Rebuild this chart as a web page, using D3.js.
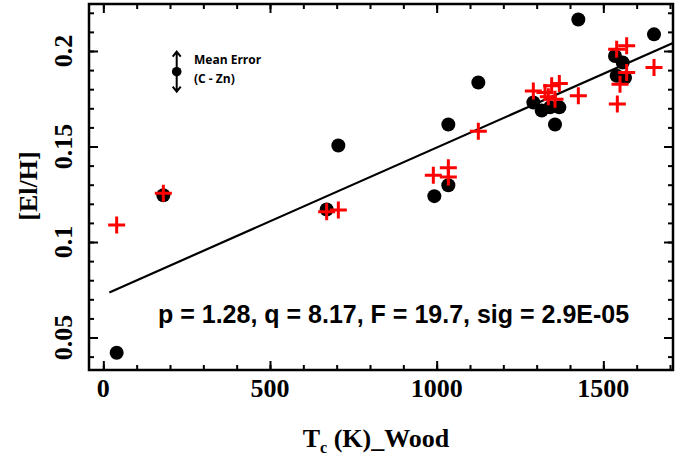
<!DOCTYPE html>
<html>
<head>
<meta charset="utf-8">
<script src="https://cdn.jsdelivr.net/npm/d3@7"></script>
<style>
  html, body { margin: 0; padding: 0; background: #fff; }
  svg { display: block; }
  .tick-label { font-family: "Liberation Serif", serif; font-weight: bold; font-size: 26px; fill: #000; }
</style>
</head>
<body>
<div id="chart"></div>
<script>
'use strict';

// black dots: [El/H] per element vs condensation temperature
var blackT = [40, 180, 670, 705, 993, 1035, 1035, 1125, 1290, 1315, 1340, 1368, 1355, 1425, 1535, 1558, 1540, 1565, 1652];
var blackV = [0.042, 0.1245, 0.117, 0.1505, 0.124, 0.1297, 0.1615, 0.1835, 0.173, 0.1688, 0.1705, 0.1705, 0.1615, 0.2165, 0.1974, 0.194, 0.187, 0.186, 0.2087];

// red crosses
var redT = [40, 180, 670, 705, 990, 1035, 1035, 1125, 1290, 1325, 1345, 1368, 1355, 1335, 1425, 1540, 1570, 1570, 1550, 1542, 1652];
var redV = [0.1089, 0.1255, 0.1158, 0.1167, 0.1349, 0.1389, 0.134, 0.158, 0.179, 0.1783, 0.1818, 0.183, 0.1748, 0.176, 0.1766, 0.2009, 0.2027, 0.1887, 0.1826, 0.1722, 0.1913];

// fitted line end points
var fitT = [18, 1709];
var fitV = [0.0736, 0.2042];

var xMajor = [0, 500, 1000, 1500];
var xLabels = ["0", "500", "1000", "1500"];
var yMajor = [0.05, 0.1, 0.15, 0.2];
var yLabels = ["0.05", "0.1", "0.15", "0.2"];

var statsText = "p = 1.28, q = 8.17, F = 19.7, sig = 2.9E-05";
var legendLines = ["Mean Error", "(C - Zn)"];

var width = 675, height = 463;
var margin = {top: 4, right: 2, bottom: 93, left: 89};
var w = width - margin.left - margin.right;
var h = height - margin.top - margin.bottom;

var svg = d3.select("#chart").append("svg")
	.attr("width", width)
	.attr("height", height);

var g = svg.append("g")
	.attr("transform", "translate(" + margin.left + "," + margin.top + ")");

var x = d3.scaleLinear().domain([-43, 1709]).range([0, w]);
var y = d3.scaleLinear().domain([0.033, 0.2246]).range([h, 0]);

var xMinor = d3.range(0, 1701, 100);
var yMinor = d3.range(4, 23).map(function (d) { return d / 100; });

function tickAxis(axis, scale, values, size) {
	return axis(scale).tickValues(values).tickSizeInner(-size).tickSizeOuter(0).tickFormat("");
}

function drawAxis(axisFn, transform, scale) {
	g.append("g").attr("transform", transform)
		.call(tickAxis(axisFn, scale, scale === x ? xMinor : yMinor, 5));
	g.append("g").attr("transform", transform)
		.call(tickAxis(axisFn, scale, scale === x ? xMajor : yMajor, 9));
}

drawAxis(d3.axisBottom, "translate(0," + h + ")", x);
drawAxis(d3.axisTop, "translate(0,0)", x);
drawAxis(d3.axisLeft, "translate(0,0)", y);
drawAxis(d3.axisRight, "translate(" + w + ",0)", y);

g.selectAll(".domain").remove();
g.selectAll(".tick line").attr("stroke", "#000").attr("stroke-width", 2);

// frame
g.append("rect")
	.attr("width", w)
	.attr("height", h)
	.attr("fill", "none")
	.attr("stroke", "#000")
	.attr("stroke-width", 2.5);

// x tick labels
g.selectAll(".xlab")
	.data(xMajor)
	.enter().append("text")
	.attr("class", "tick-label")
	.attr("text-anchor", "middle")
	.attr("x", function (d) { return x(d); })
	.attr("y", h + 27)
	.text(function (d, i) { return xLabels[i]; });

// y tick labels (rotated)
g.selectAll(".ylab")
	.data(yMajor)
	.enter().append("text")
	.attr("class", "tick-label")
	.attr("text-anchor", "middle")
	.attr("transform", function (d) {
		return "translate(-17," + y(d) + ") rotate(-90)";
	})
	.text(function (d, i) { return yLabels[i]; });

// axis titles
var xt = svg.append("text")
	.attr("class", "tick-label")
	.attr("text-anchor", "middle")
	.attr("x", 376)
	.attr("y", 447);
xt.append("tspan").text("T");
xt.append("tspan").attr("font-size", 16).attr("dy", 6).text("c");
xt.append("tspan").attr("dy", -6).text(" (K)_Wood");

svg.append("text")
	.attr("class", "tick-label")
	.attr("text-anchor", "middle")
	.attr("font-size", 27)
	.attr("transform", "translate(37,186) rotate(-90)")
	.text("[El/H]");

// fit line
g.append("line")
	.attr("x1", x(fitT[0])).attr("y1", y(fitV[0]))
	.attr("x2", x(fitT[1])).attr("y2", y(fitV[1]))
	.attr("stroke", "#000")
	.attr("stroke-width", 2.2);

// black dots
g.selectAll(".dot")
	.data(blackT)
	.enter().append("circle")
	.attr("class", "dot")
	.attr("cx", function (d) { return x(d); })
	.attr("cy", function (d, i) { return y(blackV[i]); })
	.attr("r", 7)
	.attr("fill", "#000");

// red crosses
var arm = 8.5;
g.selectAll(".cross")
	.data(redT)
	.enter().append("path")
	.attr("class", "cross")
	.attr("d", function (d, i) {
		var cx = x(d), cy = y(redV[i]);
		return "M" + (cx - arm) + "," + cy + "H" + (cx + arm) +
			"M" + cx + "," + (cy - arm) + "V" + (cy + arm);
	})
	.attr("stroke", "#ff0000")
	.attr("stroke-width", 3)
	.attr("fill", "none");

// stats text
svg.append("text")
	.attr("x", 158)
	.attr("y", 323)
	.attr("font-family", "Liberation Sans, Arial, sans-serif")
	.attr("font-weight", "bold")
	.attr("font-size", 25)
	.attr("fill", "#000")
	.text(statsText);

// mean error marker
var lg = svg.append("g").attr("transform", "translate(176.7,71.7)");
lg.append("path")
	.attr("d", "M0,-20V20M-4,-15L0,-20L4,-15M-4,15L0,20L4,15")
	.attr("stroke", "#000")
	.attr("stroke-width", 2)
	.attr("fill", "none");
lg.append("circle").attr("r", 4.8).attr("fill", "#000");

svg.selectAll(".legtext")
	.data(legendLines)
	.enter().append("text")
	.attr("x", 194)
	.attr("y", function (d, i) { return 64 + i * 19; })
	.attr("font-family", "Open Sans, sans-serif")
	.attr("font-weight", "bold")
	.attr("font-size", 12)
	.attr("fill", "#000")
	.text(function (d) { return d; });
</script>
</body>
</html>
